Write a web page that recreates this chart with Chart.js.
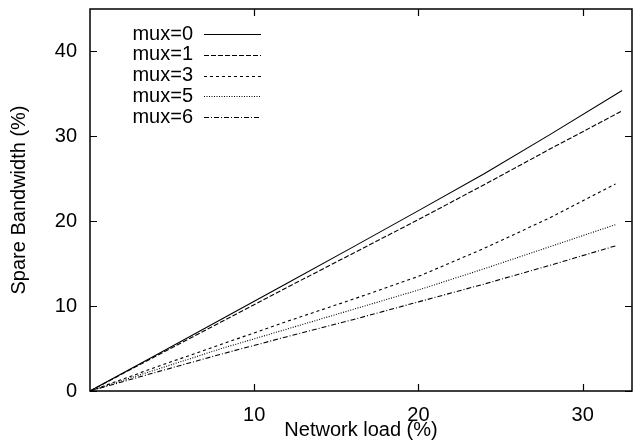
<!DOCTYPE html>
<html>
<head>
<meta charset="utf-8">
<script src="https://cdn.jsdelivr.net/npm/chart.js@4/dist/chart.umd.min.js"></script>
<style>
  html, body { margin: 0; padding: 0; background: #fff; }
</style>
</head>
<body>
<canvas id="chart" width="639" height="444"></canvas>
<script>
// network load (%) sampled for each run
const loadLong  = [0, 4, 8, 12, 16, 20, 24, 28, 32.4];
const loadShort = [0, 4, 8, 12, 16, 20, 24, 28, 32];

// spare bandwidth (%)
const mux0 = [0, 4.2, 8.45, 12.7, 16.95, 21.25, 25.6, 30.2, 35.4];
const mux1 = [0, 4.1, 8.15, 12.2, 16.2, 20.2, 24.3, 28.5, 33.0];
const mux3 = [0, 2.8, 5.5, 8.2, 10.8, 13.5, 16.8, 20.4, 24.4];
const mux5 = [0, 2.5, 5.0, 7.3, 9.6, 11.9, 14.4, 17.0, 19.6];
const mux6 = [0, 2.2, 4.35, 6.4, 8.4, 10.5, 12.6, 14.8, 17.1];

const xTicks = [10, 20, 30];
const yTicks = [0, 10, 20, 30, 40];

const FONT = '"Liberation Sans", Arial, Helvetica, sans-serif';
Chart.defaults.font.family = FONT;
Chart.defaults.color = '#000';

function pts(xs, ys) {
    return ys.map((v, i) => ({ x: xs[i], y: v }));
}

function series(label, xs, ys, dash) {
    return {
        label: label,
        data: pts(xs, ys),
        borderColor: '#000',
        borderWidth: 1.1,
        borderDash: dash,
        pointRadius: 0,
        tension: 0,
        fill: false
    };
}

function noPad(s) {
    s.paddingTop = 0;
    s.paddingBottom = 0;
    s.paddingLeft = 0;
    s.paddingRight = 0;
}

/* frame, inward ticks and key, gnuplot style */
const frame = {
    id: 'frame',
    afterDatasetsDraw(chart) {
        const { ctx, chartArea: a, scales: { x, y } } = chart;
        ctx.save();
        ctx.strokeStyle = '#000';
        ctx.lineWidth = 1.5;
        ctx.strokeRect(a.left, a.top, a.right - a.left, a.bottom - a.top);

        ctx.beginPath();
        xTicks.forEach(v => {
            const px = Math.round(x.getPixelForValue(v)) + 0.5;
            ctx.moveTo(px, a.bottom); ctx.lineTo(px, a.bottom - 7);
            ctx.moveTo(px, a.top);    ctx.lineTo(px, a.top + 7);
        });
        yTicks.forEach(v => {
            const py = Math.round(y.getPixelForValue(v)) + 0.5;
            ctx.moveTo(a.left, py);  ctx.lineTo(a.left + 7, py);
            ctx.moveTo(a.right, py); ctx.lineTo(a.right - 7, py);
        });
        ctx.lineWidth = 1.2;
        ctx.stroke();

        // key
        ctx.font = '20px ' + FONT;
        ctx.fillStyle = '#000';
        ctx.textAlign = 'right';
        ctx.textBaseline = 'middle';
        chart.data.datasets.forEach((ds, i) => {
            const ty = a.top + 25 + i * 20.8;
            ctx.fillText(ds.label, a.left + 103, ty);
            ctx.beginPath();
            ctx.setLineDash(ds.borderDash || []);
            ctx.lineWidth = ds.borderWidth;
            ctx.moveTo(a.left + 114, Math.round(ty) + 0.5);
            ctx.lineTo(a.left + 171, Math.round(ty) + 0.5);
            ctx.stroke();
        });
        ctx.restore();
    }
};

new Chart(document.getElementById('chart'), {
    type: 'line',
    data: {
        datasets: [
            series('mux=0', loadLong,  mux0, []),
            series('mux=1', loadLong,  mux1, [5, 2]),
            series('mux=3', loadShort, mux3, [3, 3]),
            series('mux=5', loadShort, mux5, [1, 1.5]),
            series('mux=6', loadShort, mux6, [5, 2, 1, 2])
        ]
    },
    options: {
        responsive: false,
        animation: false,
        devicePixelRatio: 1,
        layout: { padding: { top: 9, right: 7, left: 0, bottom: 0 } },
        plugins: {
            legend: { display: false },
            tooltip: { enabled: false }
        },
        scales: {
            x: {
                type: 'linear',
                min: 0,
                max: 33,
                afterBuildTicks: s => { s.ticks = xTicks.map(v => ({ value: v })); },
                afterFit: s => { s.height = 53; noPad(s); },
                grid: { display: false, drawTicks: false },
                border: { display: false },
                ticks: { font: { size: 20 }, padding: 12, maxRotation: 0 },
                title: {
                    display: true,
                    text: 'Network load (%)',
                    font: { size: 20 },
                    padding: { top: 0, bottom: 2 }
                }
            },
            y: {
                type: 'linear',
                min: 0,
                max: 45,
                afterBuildTicks: s => { s.ticks = yTicks.map(v => ({ value: v })); },
                afterFit: s => { s.width = 90; noPad(s); },
                grid: { display: false, drawTicks: false },
                border: { display: false },
                ticks: { font: { size: 20 }, padding: 13 },
                title: {
                    display: true,
                    text: 'Spare Bandwidth (%)',
                    font: { size: 20 },
                    padding: { top: 7, bottom: 0 }
                }
            }
        }
    },
    plugins: [frame]
});
</script>
</body>
</html>
